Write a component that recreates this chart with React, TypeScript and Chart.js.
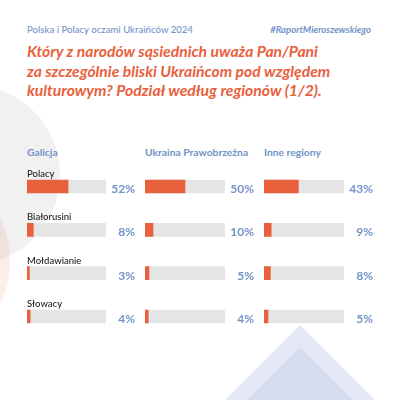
import React, { useEffect, useRef } from "react";
import { Chart, registerables } from "chart.js";

Chart.register(...registerables);

const categories = ["Polacy", "Białorusini", "Mołdawianie", "Słowacy"];
const regions = ["Galicja", "Ukraina Prawobrzeżna", "Inne regiony"];
const galicjaValues = [52, 8, 3, 4];
const prawobrzeznaValues = [50, 10, 5, 4];
const inneValues = [43, 9, 8, 5];
const trackValues = [100, 100, 100, 100];

const headerLeft = "Polska i Polacy oczami Ukraińców 2024";
const headerRight = "#RaportMieroszewskiego";
const titleLines = [
  "Który z narodów sąsiednich uważa Pan/Pani",
  "za szczególnie bliski Ukraińcom pod względem",
  "kulturowym? Podział według regionów (1/2).",
];

const ORANGE = "#e9603d";
const TRACK = "#e5e5e5";
const BLUE = "#7393c9";
const FONT = "Lato, 'Open Sans', sans-serif";

const AREA_TOP = 164.8;
const AREA_BOTTOM = 338.2;
const CANVAS_TOP = 150;
const CANVAS_BOTTOM = 350;

const columns = [
  { left: 27, width: 79, values: galicjaValues, showCats: true },
  { left: 145, width: 80, values: prawobrzeznaValues, showCats: false },
  { left: 264, width: 80, values: inneValues, showCats: false },
];

function BarPanel({ col }: { col: (typeof columns)[number] }) {
  const ref = useRef<HTMLCanvasElement | null>(null);
  const canvasWidth = col.width + 34;
  useEffect(() => {
    if (!ref.current) return;
    const labelPlugin = {
      id: "labels",
      afterDatasetsDraw(chart: any) {
        const ctx = chart.ctx;
        const y = chart.scales.y;
        const area = chart.chartArea;
        ctx.save();
        categories.forEach((cat, i) => {
          const cy = y.getPixelForValue(i);
          if (col.showCats) {
            ctx.font = `500 9.5px ${FONT}`;
            ctx.fillStyle = "#222";
            ctx.textAlign = "left";
            ctx.textBaseline = "alphabetic";
            ctx.fillText(cat, area.left, cy - 9.5);
          }
          ctx.font = `bold 12px ${FONT}`;
          ctx.fillStyle = BLUE;
          ctx.textAlign = "right";
          ctx.textBaseline = "alphabetic";
          ctx.fillText(`${col.values[i]}%`, area.right + 29, cy + 6.5);
        });
        ctx.restore();
      },
    };
    const chart = new Chart(ref.current, {
      type: "bar",
      data: {
        labels: categories,
        datasets: [
          {
            data: col.values,
            backgroundColor: ORANGE,
            barThickness: 13,
            grouped: false,
            order: 0,
          } as any,
          {
            data: trackValues,
            backgroundColor: TRACK,
            barThickness: 13,
            grouped: false,
            order: 1,
          } as any,
        ],
      },
      options: {
        indexAxis: "y",
        animation: false,
        responsive: true,
        maintainAspectRatio: false,
        layout: {
          padding: {
            left: 0,
            right: canvasWidth - col.width,
            top: AREA_TOP - CANVAS_TOP,
            bottom: CANVAS_BOTTOM - AREA_BOTTOM,
          },
        },
        scales: {
          x: { min: 0, max: 100, display: false },
          y: { type: "category", display: false },
        },
        plugins: { legend: { display: false }, tooltip: { enabled: false } },
      },
      plugins: [labelPlugin],
    });
    return () => chart.destroy();
  }, []);
  return (
    <div
      style={{
        position: "absolute",
        left: col.left,
        top: CANVAS_TOP,
        width: canvasWidth,
        height: CANVAS_BOTTOM - CANVAS_TOP,
      }}
    >
      <canvas ref={ref} />
    </div>
  );
}

export default function App() {
  return (
    <div
      style={{
        position: "absolute",
        left: 0,
        top: 0,
        width: 400,
        height: 400,
        background: "#fff",
        overflow: "hidden",
        fontFamily: FONT,
      }}
    >
      {/* background decorations */}
      <div
        style={{
          position: "absolute",
          left: -120,
          top: 85,
          width: 180,
          height: 180,
          borderRadius: "50%",
          background: "#f1f1f2",
        }}
      />
      <div
        style={{
          position: "absolute",
          left: -194,
          top: 159,
          width: 204,
          height: 204,
          borderRadius: "50%",
          background: "rgba(240,120,90,0.13)",
        }}
      />
      <div
        style={{
          position: "absolute",
          left: 225,
          top: 325,
          width: 150,
          height: 75,
          background: "#e4e7f5",
          clipPath: "polygon(50% 0, 100% 100%, 0 100%)",
        }}
      />
      <div
        style={{
          position: "absolute",
          left: 247,
          top: 347,
          width: 106,
          height: 53,
          background: "#d7ddf0",
          clipPath: "polygon(50% 0, 100% 100%, 0 100%)",
        }}
      />

      {/* header */}
      <div
        style={{
          position: "absolute",
          left: 27,
          top: 24,
          fontSize: 9.6,
          color: BLUE,
          fontWeight: 500,
          whiteSpace: "nowrap",
          lineHeight: "12px",
        }}
      >
        {headerLeft}
      </div>
      <div
        style={{
          position: "absolute",
          right: 29,
          top: 24,
          fontSize: 9.5,
          color: BLUE,
          fontWeight: 700,
          fontStyle: "italic",
          whiteSpace: "nowrap",
          lineHeight: "12px",
        }}
      >
        {headerRight}
      </div>
      <div
        style={{
          position: "absolute",
          left: 27,
          top: 42,
          fontSize: 15.7,
          lineHeight: "19.5px",
          color: ORANGE,
          fontWeight: 700,
          fontStyle: "italic",
          whiteSpace: "nowrap",
        }}
      >
        {titleLines.map((l, i) => (
          <div key={i}>{l}</div>
        ))}
      </div>

      {/* region headers */}
      {regions.map((r, i) => (
        <div
          key={r}
          style={{
            position: "absolute",
            left: columns[i].left,
            top: 146,
            fontSize: 10.3,
            lineHeight: "13px",
            color: BLUE,
            fontWeight: 700,
            whiteSpace: "nowrap",
          }}
        >
          {r}
        </div>
      ))}

      {columns.map((c, i) => (
        <BarPanel key={i} col={c} />
      ))}
    </div>
  );
}
